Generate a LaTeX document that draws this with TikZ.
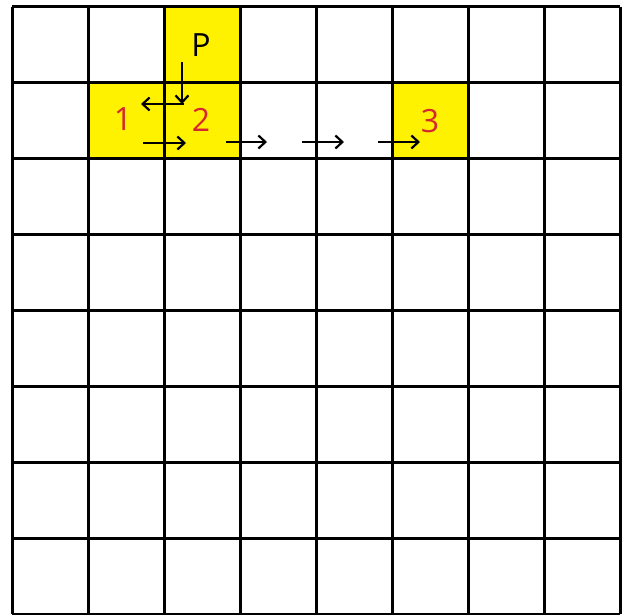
\documentclass[tikz,border=0pt]{standalone}
\usepackage{fontspec}
\setmainfont{Open Sans}
\usetikzlibrary{arrows.meta}
\definecolor{cellyellow}{RGB}{255,242,0}
\definecolor{numred}{RGB}{214,38,48}
\tikzset{
  gridline/.style={line width=3pt, black},
  barb/.style={-{Straight Barb[length=7pt,width=13pt,line width=2.2pt]}},
  mover/.style={line width=2.2pt, barb},
  lbl/.style={inner sep=0pt, font=\fontsize{32}{38}\selectfont},
  num/.style={lbl, text=numred}
}
\begin{document}
\begin{tikzpicture}[x=1pt,y=-1pt]
\useasboundingbox (0,0) rectangle (624,615);
% yellow cells
\fill[cellyellow] (164,7) rectangle (240,83);
\fill[cellyellow] (88,83) rectangle (240,159);
\fill[cellyellow] (392,83) rectangle (468,159);
% grid
\foreach \i in {0,...,8} {
  \draw[gridline] ({12+76*\i},7) -- ({12+76*\i},614);
  \draw[gridline] (12,{7+75.875*\i}) -- (620,{7+75.875*\i});
}
% labels
\node[lbl] (P) at (201,45) {P};
\node[num] (n1) at (123,119) {1};
\node[num] (n2) at (201,120) {2};
\node[num] (n3) at (430,121) {3};
% arrow coordinates
\coordinate (a0) at (182,62);
\coordinate (a1) at (182,104);
\coordinate (a2) at (184,104);
\coordinate (b1) at (141,104);
\coordinate (c0) at (143,143);
\coordinate (c1) at (186,143);
\coordinate (d0) at (226,142);
\coordinate (d1) at (267,142);
\coordinate (e0) at (302,142);
\coordinate (e1) at (344,142);
\coordinate (f0) at (378,142);
\coordinate (f1) at (420,142);
\draw[mover] (a0) -- (a1);
\draw[mover] (a2) -- (b1);
\draw[mover] (c0) -- (c1);
\draw[mover] (d0) -- (d1);
\draw[mover] (e0) -- (e1);
\draw[mover] (f0) -- (f1);
\end{tikzpicture}
\end{document}
